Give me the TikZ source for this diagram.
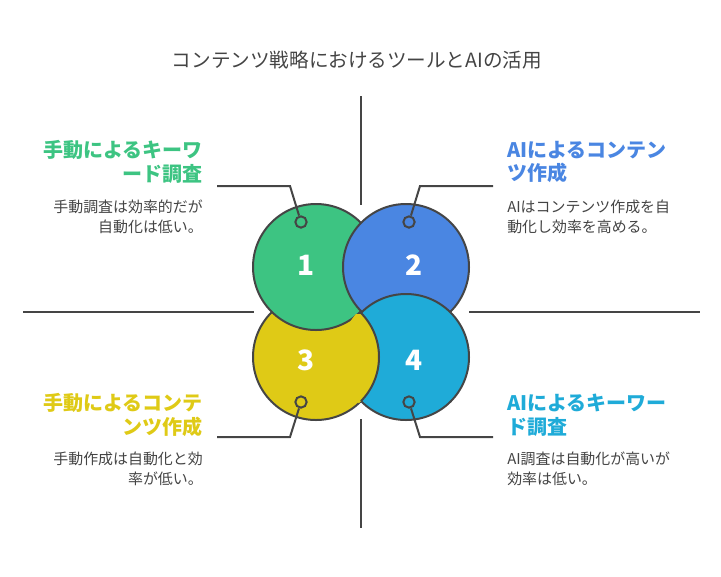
\documentclass[tikz,border=0pt]{standalone}
\usepackage{fontspec}
\setmainfont{Noto Sans CJK JP}
\definecolor{cgreen}{HTML}{3DC482}
\definecolor{cblue}{HTML}{4A86E2}
\definecolor{cyellow}{HTML}{DFCA16}
\definecolor{ccyan}{HTML}{1FABD8}
\definecolor{cstroke}{HTML}{454545}
\definecolor{ctext}{HTML}{444444}
\begin{document}
\begin{tikzpicture}[x=0.75pt,y=-0.75pt,
  petal/.style={draw=cstroke,line width=1.5pt},
  marker/.style={circle,draw=cstroke,line width=1.5pt,minimum size=8.5pt,inner sep=0pt},
  leader/.style={draw=cstroke,line width=1.5pt},
  cross/.style={draw=cstroke,line width=1.5pt},
  numlabel/.style={text=white,font=\bfseries\fontsize{21}{21}\selectfont},
  headL/.style={anchor=east,align=right,inner sep=0pt,font=\bfseries\fontsize{15}{17.6}\selectfont},
  headR/.style={anchor=west,align=left,inner sep=0pt,font=\bfseries\fontsize{15}{17.6}\selectfont},
  descL/.style={anchor=east,align=right,inner sep=0pt,text=ctext,font=\fontsize{11.2}{14.6}\selectfont},
  descR/.style={anchor=west,align=left,inner sep=0pt,text=ctext,font=\fontsize{11.2}{14.6}\selectfont}]
\useasboundingbox (0,0) rectangle (721,576);
\node[text=ctext,font=\fontsize{14.7}{17}\selectfont] (title) at (357,60) {コンテンツ戦略におけるツールとAIの活用};
% cross lines
\coordinate (vt1) at (361,96); \coordinate (vt2) at (361,205);
\coordinate (vb1) at (361,419); \coordinate (vb2) at (361,528);
\coordinate (hl1) at (23,312); \coordinate (hl2) at (254,312);
\coordinate (hr1) at (469,312); \coordinate (hr2) at (700,312);
\draw[cross] (vt1) -- (vt2);
\draw[cross] (vb1) -- (vb2);
\draw[cross] (hl1) -- (hl2);
\draw[cross] (hr1) -- (hr2);
% circles
\path[petal,fill=cyellow] (316,357) circle (63);
\path[petal,fill=cgreen] (316,267) circle (63);
\path[petal,fill=cblue] (406,267) circle (63);
\path[petal,fill=ccyan] (406,357) circle (63);
% yellow lies over cyan
\begin{scope}
  \clip (300,314.5) rectangle (420,420);
  \clip (406,357) circle (66);
  \fill[cyellow] (316,357) circle (63);
\end{scope}
\begin{scope}
  \clip (406,357) circle (63);
  \draw[draw=cstroke,line width=1.5pt] (316,357) circle (63);
\end{scope}
% numbers
\node[numlabel] (n1) at (306,265) {1};
\node[numlabel] (n2) at (414,265) {2};
\node[numlabel] (n3) at (306,360) {3};
\node[numlabel] (n4) at (414,360) {4};
% markers
\node[marker,fill=cgreen] (m1) at (301,222) {};
\node[marker,fill=cblue] (m2) at (409,222) {};
\node[marker,fill=cyellow] (m3) at (301,402) {};
\node[marker,fill=ccyan] (m4) at (409,402) {};
% leader bends and ends
\coordinate (b1) at (290,186); \coordinate (e1) at (217,186);
\coordinate (b2) at (420,186); \coordinate (e2) at (493,186);
\coordinate (b3) at (290,437); \coordinate (e3) at (217,437);
\coordinate (b4) at (420,437); \coordinate (e4) at (493,437);
\draw[leader] (m1) -- (b1) -- (e1);
\draw[leader] (m2) -- (b2) -- (e2);
\draw[leader] (m3) -- (b3) -- (e3);
\draw[leader] (m4) -- (b4) -- (e4);
% texts
\node[headL,text=cgreen] (h1) at (203,162) {手動によるキーワ\\ード調査};
\node[descL] (d1) at (203,217) {手動調査は効率的だが\\自動化は低い。};
\node[headR,text=cblue] (h2) at (507,162) {AIによるコンテン\\ツ作成};
\node[descR] (d2) at (507,217) {AIはコンテンツ作成を自\\動化し効率を高める。};
\node[headL,text=cyellow] (h3) at (203,415) {手動によるコンテ\\ンツ作成};
\node[descL] (d3) at (203,469) {手動作成は自動化と効\\率が低い。};
\node[headR,text=ccyan] (h4) at (507,415) {AIによるキーワー\\ド調査};
\node[descR] (d4) at (507,469) {AI調査は自動化が高いが\\効率は低い。};
\end{tikzpicture}
\end{document}
